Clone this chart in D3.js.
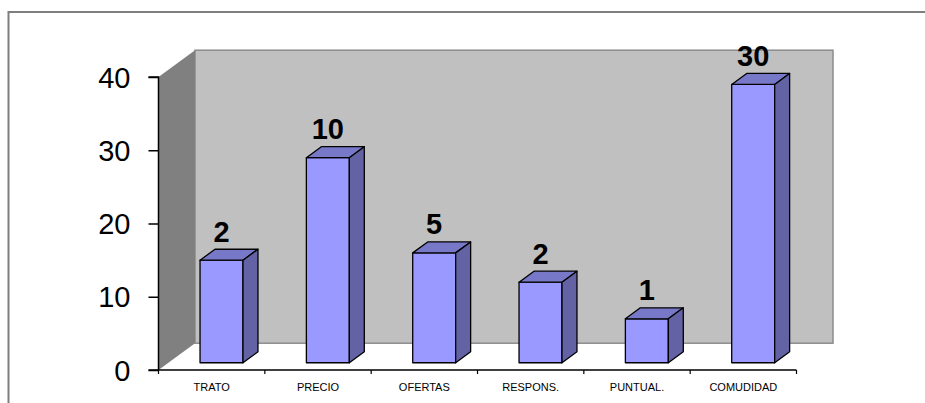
<!DOCTYPE html>
<html>
<head>
<meta charset="utf-8">
<script src="https://cdn.jsdelivr.net/npm/d3@7"></script>
<style>
  html, body { margin: 0; padding: 0; background: #fff; }
  svg { display: block; font-family: "Liberation Sans", Arial, sans-serif; }
</style>
</head>
<body>
<svg id="chart" width="925" height="403"></svg>
<script>
// Categories along the floor
const categories = ["TRATO", "PRECIO", "OFERTAS", "RESPONS.", "PUNTUAL.", "COMUDIDAD"];
// Column heights on the value axis
const values = [14, 28, 15, 11, 6, 38];
// Counts printed above each column
const counts = [2, 10, 5, 2, 1, 30];
// Value axis ticks
const yTicks = [0, 10, 20, 30, 40];

const svg = d3.select("#chart");

// Plot front plane
const x0 = 158.5, x1 = 796.5, yBottom = 370, yTop = 77;
// Depth vector of the 3D box (front plane -> back wall)
const DX = 36.5, DY = -26.8;
// Columns sit between these depth fractions
const f0 = 0.27, fd = 0.41;

const x = d3.scaleBand().domain(categories).range([x0, x1])
  .paddingInner(0.596).paddingOuter(0.298);
const xCat = d3.scaleBand().domain(categories).range([x0, x1]).padding(0);
const y = d3.scaleLinear().domain([0, 40]).range([yBottom, yTop]);

// Outer frame
svg.append("path")
  .attr("d", `M8.5,403 L8.5,12 L925,12`)
  .attr("fill", "none").attr("stroke", "#7f7f7f").attr("stroke-width", 2);

const line = d3.line();

// Floor
svg.append("path")
  .attr("d", line([[x0, yBottom], [x0 + DX, yBottom + DY], [x1 + DX, yBottom + DY], [x1, yBottom]]) + "Z")
  .attr("fill", "#ffffff");

// Back wall
svg.append("rect")
  .attr("x", x0 + DX).attr("y", y(40) + DY)
  .attr("width", x1 - x0).attr("height", y(0) - y(40))
  .attr("fill", "#c0c0c0").attr("stroke", "#8c8c8c").attr("stroke-width", 1.5);

// Side wall
svg.append("path")
  .attr("d", line([[x0, y(40)], [x0 + DX, y(40) + DY], [x0 + DX, y(0) + DY], [x0, y(0)]]) + "Z")
  .attr("fill", "#808080");

// Columns
const ox = f0 * DX, oy = f0 * DY;   // front face offset
const bx = fd * DX, by = fd * DY;   // column depth
const cols = svg.append("g").selectAll("g").data(categories).join("g");
cols.each(function (c, i) {
  const g = d3.select(this);
  const L = x(c) + ox, R = x(c) + x.bandwidth() + ox;
  const T = y(values[i]) + oy, B = y(0) + oy;
  // front face
  g.append("path").attr("d", line([[L, B], [L, T], [R, T], [R, B]]) + "Z")
    .attr("fill", "#9999ff").attr("stroke", "#000").attr("stroke-width", 1.3).attr("stroke-linejoin", "round");
  // top face
  g.append("path").attr("d", line([[L, T], [L + bx, T + by], [R + bx, T + by], [R, T]]) + "Z")
    .attr("fill", "#7878c8").attr("stroke", "#000").attr("stroke-width", 1.3).attr("stroke-linejoin", "round");
  // side face
  g.append("path").attr("d", line([[R, T], [R + bx, T + by], [R + bx, B + by], [R, B]]) + "Z")
    .attr("fill", "#6262a4").attr("stroke", "#000").attr("stroke-width", 1.3).attr("stroke-linejoin", "round");
  // count label
  g.append("text")
    .attr("x", (L + R) / 2).attr("y", T + by - 7.5)
    .attr("text-anchor", "middle")
    .attr("font-size", 29).attr("font-weight", "bold").attr("fill", "#000")
    .text(counts[i]);
});

// Value axis
const yAxis = svg.append("g").attr("transform", `translate(${x0},0)`)
  .call(d3.axisLeft(y).tickValues(yTicks).tickSize(10).tickPadding(18).tickFormat(d3.format("d")));
yAxis.select(".domain").attr("stroke", "#000").attr("stroke-width", 1.5).attr("d", `M-10,${yTop}H0V${yBottom}`);
yAxis.selectAll(".tick line").attr("stroke", "#000").attr("stroke-width", 1.5);
yAxis.selectAll(".tick text")
  .attr("font-family", "Liberation Sans, Arial, sans-serif")
  .attr("font-size", 29).attr("fill", "#000").attr("dy", "0.35em");

// Category axis
const xAxis = svg.append("g").attr("transform", `translate(0,${yBottom})`)
  .call(d3.axisBottom(xCat).tickSize(0).tickPadding(13));
xAxis.select(".domain").attr("stroke", "#000").attr("stroke-width", 1.5).attr("d", `M${x0 - 10},0H${x1}`);
xAxis.selectAll(".tick text")
  .attr("font-family", "Liberation Sans, Arial, sans-serif")
  .attr("font-size", 11).attr("fill", "#000");
// boundary ticks between categories
xAxis.append("g").selectAll("line")
  .data(categories.map(c => xCat(c)).concat([x1]))
  .join("line")
  .attr("x1", d => d).attr("x2", d => d).attr("y1", 0).attr("y2", 4)
  .attr("stroke", "#000").attr("stroke-width", 1.2);
</script>
</body>
</html>
